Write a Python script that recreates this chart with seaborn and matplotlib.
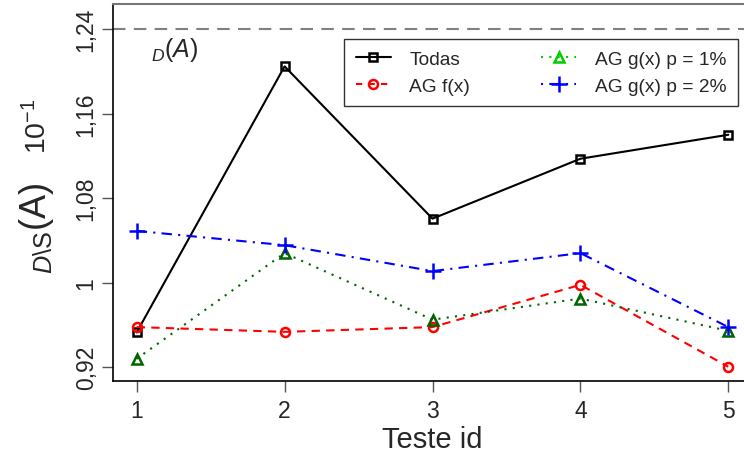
import matplotlib
matplotlib.use("Agg")
import matplotlib.pyplot as plt
from matplotlib.lines import Line2D
import pandas as pd
import seaborn as sns

# Test identifiers and series values
teste_id = [1, 2, 3, 4, 5]
todas = [0.953, 1.2047, 1.0606, 1.1173, 1.1400]
ag_f = [0.958, 0.9535, 0.958, 0.998, 0.9205]
ag_g1 = [0.928, 1.028, 0.965, 0.985, 0.9545]
ag_g2 = [1.049, 1.0355, 1.011, 1.028, 0.958]
referencia = 1.24
y_ticks = [0.92, 1.0, 1.08, 1.16, 1.24]
y_tick_labels = ["0,92", "1", "1,08", "1,16", "1,24"]
series_names = ["Todas", "AG f(x)", "AG g(x) p = 1%", "AG g(x) p = 2%"]

sns.set_style("ticks")
plt.rcParams["font.family"] = ["Liberation Sans", "DejaVu Sans"]
plt.rcParams["mathtext.fontset"] = "custom"
plt.rcParams["mathtext.rm"] = "Liberation Sans"
plt.rcParams["mathtext.it"] = "Liberation Sans:italic"

df = pd.DataFrame({
    "id": teste_id * 4,
    "valor": todas + ag_f + ag_g1 + ag_g2,
    "serie": sum([[n] * 5 for n in series_names], []),
})

fig = plt.figure(figsize=(7.44, 4.60), dpi=100)
ax = fig.add_axes([113 / 744, 78 / 460, 639 / 744, 377 / 460])

styles = {
    "Todas": dict(color="black", linestyle="-", marker="s", ms=5.5),
    "AG f(x)": dict(color="red", linestyle=(0, (4, 3)), marker="o", ms=6.5),
    "AG g(x) p = 1%": dict(color="darkgreen", linestyle=(0, (1, 3)), marker="^", ms=7.5),
    "AG g(x) p = 2%": dict(color="blue", linestyle=(0, (5, 3, 1, 3)), marker="+", ms=12),
}
for name in series_names:
    st = styles[name]
    sns.lineplot(data=df[df["serie"] == name], x="id", y="valor", ax=ax,
                 color=st["color"], linestyle=st["linestyle"], linewidth=1.5,
                 marker=st["marker"], markersize=st["ms"],
                 markerfacecolor="none", markeredgecolor=st["color"],
                 markeredgewidth=1.8, legend=False)

ax.axhline(referencia, color="gray", linestyle=(0, (6, 4)), linewidth=1.5)
ax.text(1.1, 1.2215, r"$_{D}(A)$", fontsize=18, ha="left", va="center")

ax.set_xlim(0.84, 5.16)
ax.set_ylim(0.907, 1.2637)
ax.set_xticks(teste_id)
ax.set_xticklabels([str(i) for i in teste_id], fontsize=16.5)
ax.set_yticks(y_ticks)
ax.set_yticklabels(y_tick_labels, fontsize=16.5, rotation=90, va="center")
ax.tick_params(axis="both", direction="out", length=8, width=1, color="#555555")
ax.tick_params(axis="x", pad=5)
ax.tick_params(axis="y", pad=3)

ax.set_xlabel("Teste id", fontsize=21, labelpad=2)
ax.set_ylabel("")
# Y axis caption in two parts: the set symbol and the scale factor
fig.text(37 / 744, 1 - 228 / 460, r"$_{D\backslash\mathrm{S}}\mathrm{(A)}$",
         fontsize=26, rotation=90, ha="center", va="center")
fig.text(38 / 744, 1 - 126 / 460, r"$\mathrm{10^{-1}}$",
         fontsize=20.5, rotation=90, ha="center", va="center")

for side in ["left", "bottom"]:
    ax.spines[side].set_color("black")
    ax.spines[side].set_linewidth(1.2)
ax.spines["top"].set_color("#777777")
ax.spines["top"].set_linewidth(1.5)
ax.spines["right"].set_visible(False)

handles = [
    Line2D([], [], color="black", linestyle="-", marker="s", ms=5.5,
           mfc="none", mec="black", mew=1.8, lw=1.5),
    Line2D([], [], color="red", linestyle=(0, (3, 3)), marker="o", ms=6.5,
           mfc="none", mec="red", mew=1.8, lw=1.5),
    Line2D([], [], color="#00CC00", linestyle=(0, (1, 3)), marker="^", ms=7.5,
           mfc="none", mec="#00CC00", mew=1.8, lw=1.5),
    Line2D([], [], color="blue", linestyle=(0, (1, 3, 5, 3)), marker="+", ms=12,
           mfc="none", mec="blue", mew=1.8, lw=1.5),
]
leg = fig.legend(handles, series_names, ncol=2, loc="upper left",
                 bbox_to_anchor=(344 / 744, 1 - 40 / 460), fontsize=13.8,
                 frameon=True, fancybox=False, edgecolor="black",
                 handlelength=1.85, columnspacing=3.7, handletextpad=0.95,
                 borderpad=0.6, labelspacing=0.5, borderaxespad=0)
leg.get_frame().set_linewidth(1.0)

fig.savefig("out.png", dpi=100)
